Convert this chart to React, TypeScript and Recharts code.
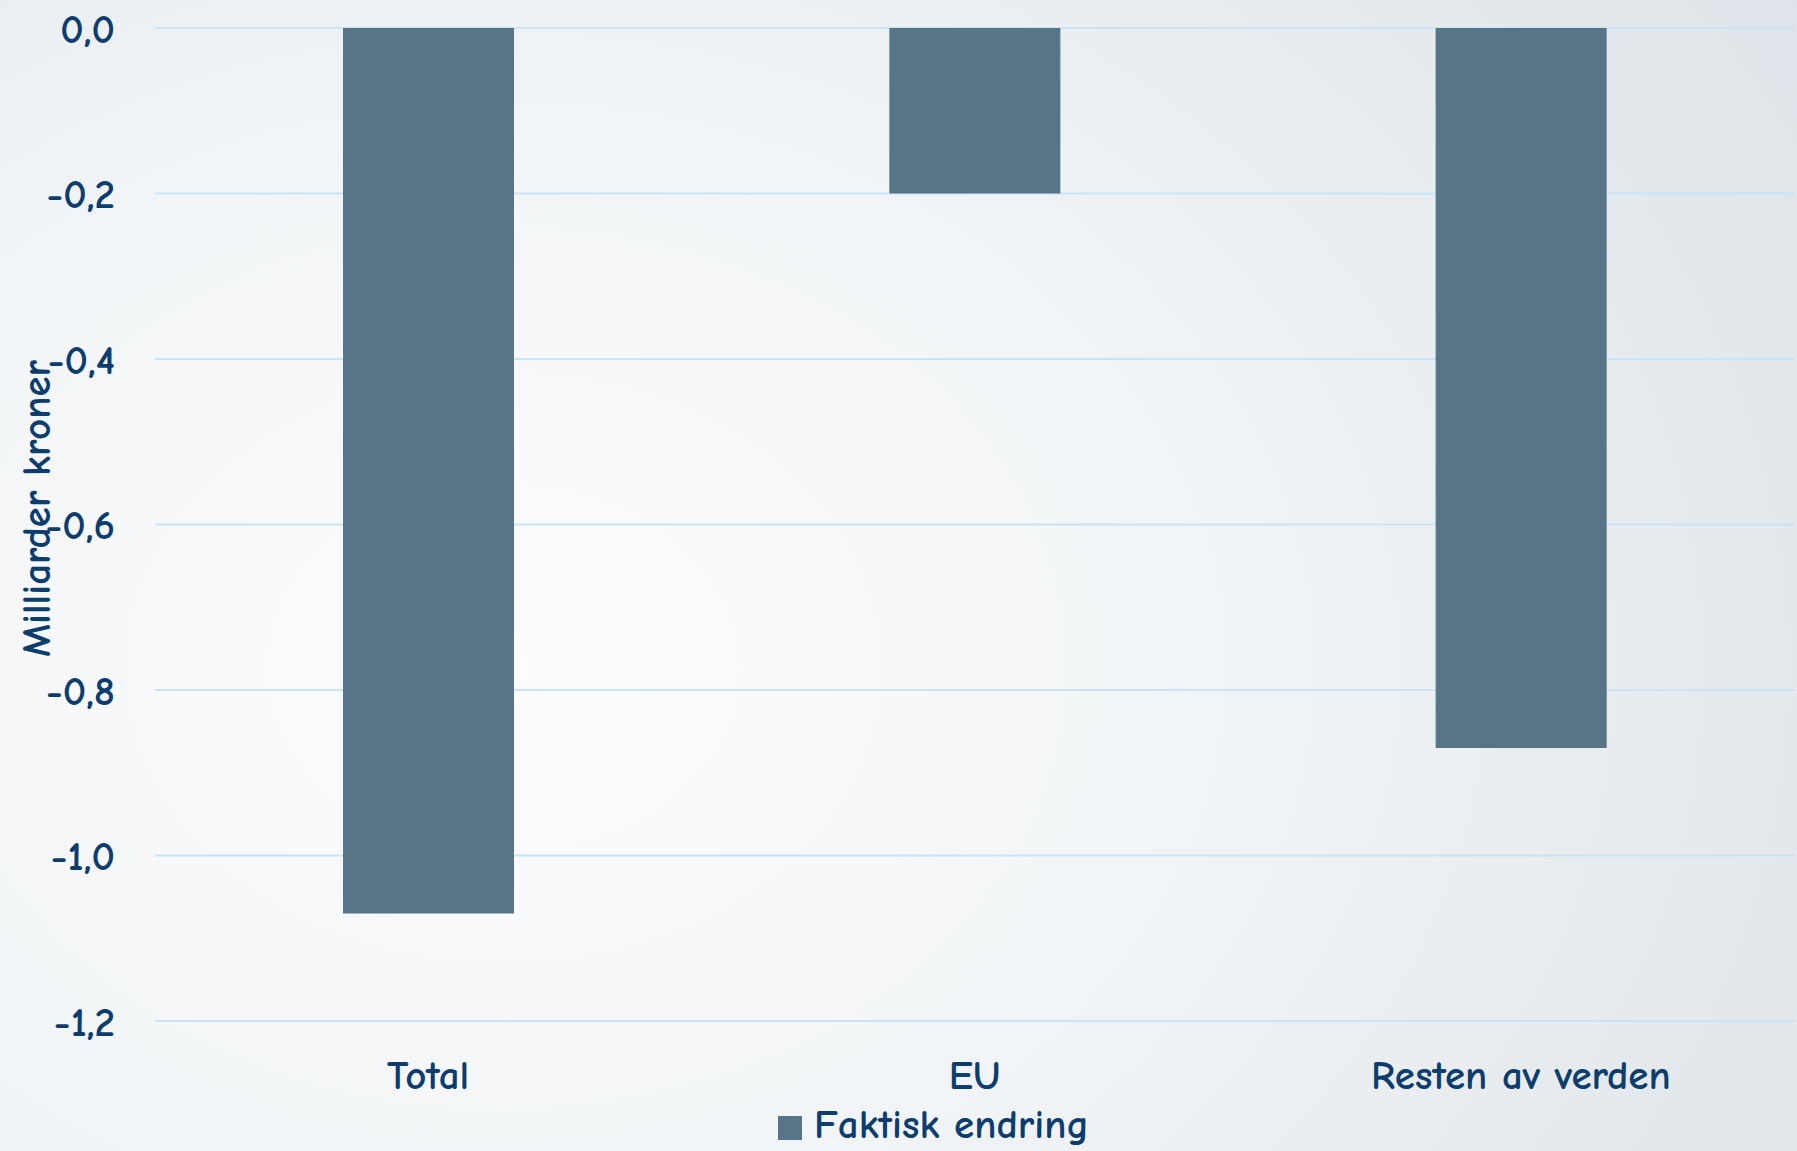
import React from 'react';
import { BarChart, Bar, XAxis, YAxis, CartesianGrid, Legend } from 'recharts';

const categories = ['Total', 'EU', 'Resten av verden'];
const faktiskEndring = [-1.07, -0.2, -0.87];
const yTicks = [0, -0.2, -0.4, -0.6, -0.8, -1.0, -1.2];

const data = categories.map((name, i) => ({ name, faktisk: faktiskEndring[i] }));

const FONT = "'Comic Sans MS', 'Comic Neue', 'Open Sans', sans-serif";
const TEXT = '#0c3d6c';
const FS = 41;

const fmt = (v: number) => v.toFixed(1).replace('.', ',');

const App = () => {
  return (
    <div
      style={{
        position: 'absolute',
        left: 0,
        top: 0,
        width: 1797,
        height: 1151,
        background:
          'radial-gradient(ellipse 90% 110% at 28% 58%, #fdfdfe 0%, #f1f4f6 45%, #dce2e7 100%)',
        fontFamily: FONT,
      }}
    >
      <BarChart
        width={1797}
        height={1151}
        data={data}
        margin={{ top: 28, right: 3, bottom: 3, left: 0 }}
      >
        <CartesianGrid stroke="#c8e3fa" strokeWidth={2} vertical={false} />
        <XAxis
          dataKey="name"
          axisLine={false}
          tickLine={false}
          height={81}
          tickMargin={33}
          tick={{ fill: TEXT, fontSize: FS, fontFamily: FONT, fontWeight: 700 }}
        />
        <YAxis
          type="number"
          domain={[-1.2, 0]}
          ticks={yTicks}
          width={155}
          axisLine={false}
          tickLine={false}
          tickMargin={34}
          tickFormatter={fmt}
          tick={{ fill: TEXT, fontSize: FS, fontFamily: FONT, fontWeight: 700 }}
          label={(props: any) => {
            const vb = props.viewBox || { x: 0, y: 28, height: 993 };
            const cx = vb.x + 36;
            const cy = vb.y + vb.height / 2 - 16;
            return (
              <text
                x={cx}
                y={cy}
                transform={`rotate(-90, ${cx}, ${cy})`}
                textAnchor="middle"
                dominantBaseline="central"
                fill={TEXT}
                fontSize={FS}
                fontFamily={FONT}
                fontWeight={700}
              >
                Milliarder kroner
              </text>
            );
          }}
        />
        <Legend
          verticalAlign="bottom"
          align="left"
          iconType="square"
          iconSize={24}
          wrapperStyle={{
            left: 778,
            width: 500,
            fontFamily: FONT,
            fontSize: FS,
            fontWeight: 700,
            lineHeight: '46px',
          }}
          formatter={(value) => (
            <span style={{ color: TEXT, paddingLeft: 8 }}>{value}</span>
          )}
        />
        <Bar
          dataKey="faktisk"
          name="Faktisk endring"
          fill="#587487"
          barSize={171}
          isAnimationActive={false}
        />
      </BarChart>
    </div>
  );
};

export default App;
